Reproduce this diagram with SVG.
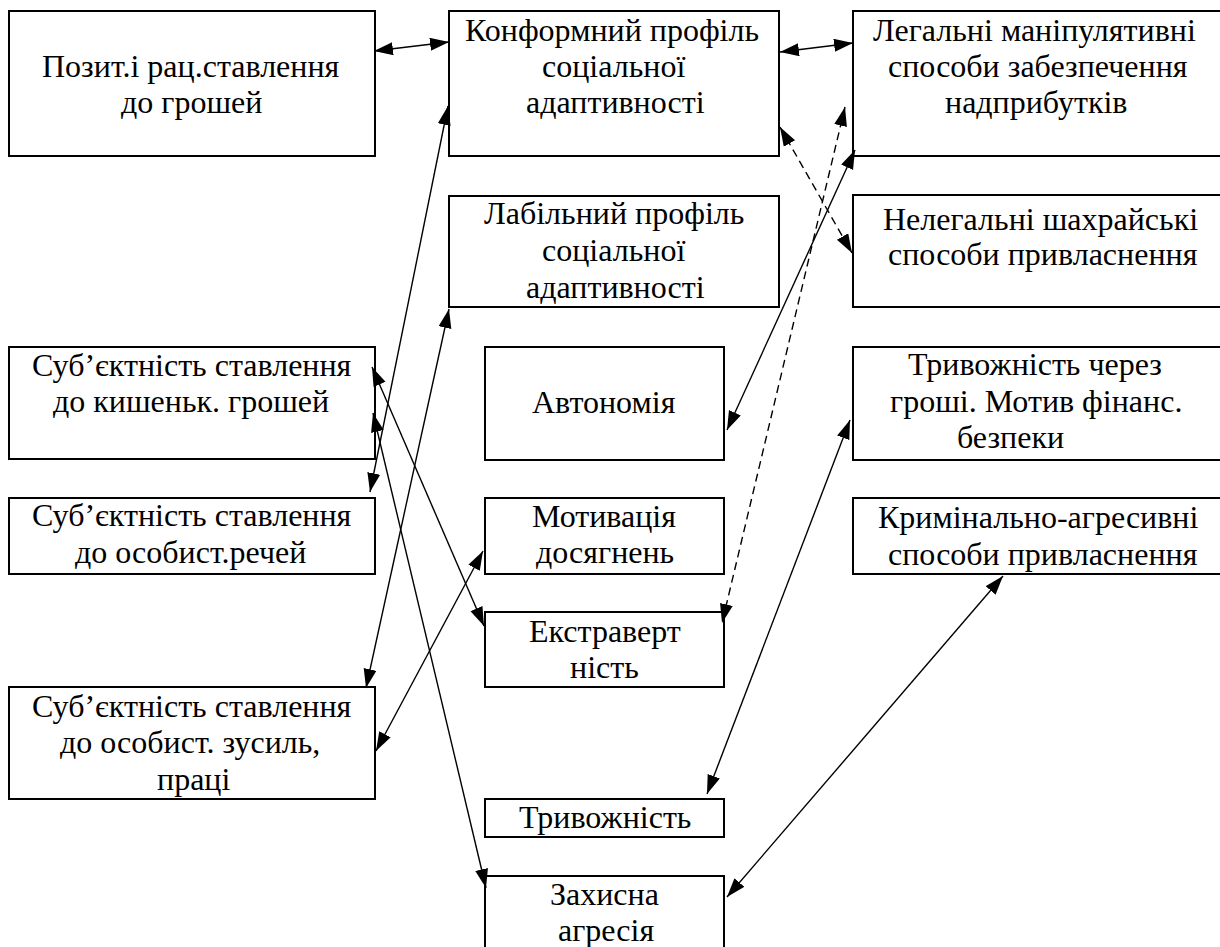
<svg xmlns="http://www.w3.org/2000/svg" width="1220" height="947" viewBox="0 0 1220 947">
<style>
.box{fill:#fff;stroke:#000;stroke-width:2}
.t{font-family:'Liberation Serif','Times New Roman',serif;font-size:32px;fill:#000}
.c{fill:none;stroke:#000;stroke-width:1.4}
.d{stroke-dasharray:8,5}
</style>
<defs>
<marker id="ah" markerUnits="userSpaceOnUse" markerWidth="20" markerHeight="14" refX="19" refY="6.5" orient="auto-start-reverse" viewBox="0 0 20 14">
<path d="M0,0 L19,6.5 L0,13 z" fill="#000"/>
</marker>
</defs>
<g id="n-pozyt"><rect class="box" x="9" y="11" width="366" height="145"/><text class="t" x="42" y="77">Позит.і рац.ставлення</text><text class="t" x="121" y="113">до грошей</text></g>
<g id="n-konform"><rect class="box" x="449" y="11" width="330" height="145"/><text class="t" x="465" y="41">Конформний профіль</text><text class="t" x="542" y="77">соціальної</text><text class="t" x="526" y="113">адаптивності</text></g>
<g id="n-legal"><rect class="box" x="853" y="11" width="372" height="145"/><text class="t" x="873" y="41">Легальні маніпулятивні</text><text class="t" x="888" y="77">способи забезпечення</text><text class="t" x="945" y="113">надприбутків</text></g>
<g id="n-labil"><rect class="box" x="449" y="196" width="330" height="111"/><text class="t" x="484" y="224">Лабільний профіль</text><text class="t" x="542" y="261">соціальної</text><text class="t" x="526" y="298">адаптивності</text></g>
<g id="n-nelegal"><rect class="box" x="853" y="195" width="372" height="112"/><text class="t" x="883" y="230">Нелегальні шахрайські</text><text class="t" x="888" y="265">способи привласнення</text></g>
<g id="n-sub1"><rect class="box" x="9" y="347" width="366" height="112"/><text class="t" x="32" y="376">Суб’єктність ставлення</text><text class="t" x="53" y="412">до кишеньк. грошей</text></g>
<g id="n-avtonom"><rect class="box" x="485" y="347" width="239" height="113"/><text class="t" x="532" y="413">Автономія</text></g>
<g id="n-tryv-groshi"><rect class="box" x="853" y="347" width="372" height="113"/><text class="t" x="908" y="375">Тривожність через</text><text class="t" x="890" y="412">гроші. Мотив фінанс.</text><text class="t" x="957" y="448">безпеки</text></g>
<g id="n-sub2"><rect class="box" x="9" y="498" width="366" height="76"/><text class="t" x="32" y="526">Суб’єктність ставлення</text><text class="t" x="75" y="563">до особист.речей</text></g>
<g id="n-motyv"><rect class="box" x="485" y="498" width="239" height="76"/><text class="t" x="532" y="527">Мотивація</text><text class="t" x="536" y="563">досягнень</text></g>
<g id="n-krymin"><rect class="box" x="853" y="498" width="372" height="76"/><text class="t" x="878" y="528">Кримінально-агресивні</text><text class="t" x="888" y="565">способи привласнення</text></g>
<g id="n-ekstra"><rect class="box" x="485" y="612" width="239" height="75"/><text class="t" x="529" y="642">Екстраверт</text><text class="t" x="570" y="678">ність</text></g>
<g id="n-sub3"><rect class="box" x="9" y="687" width="366" height="112"/><text class="t" x="32" y="717">Суб’єктність ставлення</text><text class="t" x="60" y="753">до особист. зусиль,</text><text class="t" x="157" y="790">праці</text></g>
<g id="n-tryv"><rect class="box" x="485" y="799" width="239" height="38"/><text class="t" x="519" y="828">Тривожність</text></g>
<g id="n-zakhyst"><rect class="box" x="485" y="876" width="239" height="80"/><text class="t" x="550" y="905">Захисна</text><text class="t" x="558" y="941">агресія</text></g>
<g id="connectors">
<line class="c" x1="374" y1="51" x2="449" y2="42" marker-start="url(#ah)" marker-end="url(#ah)"/>
<line class="c" x1="780" y1="52" x2="853" y2="43" marker-start="url(#ah)" marker-end="url(#ah)"/>
<line class="c" x1="448" y1="106" x2="370" y2="492" marker-start="url(#ah)" marker-end="url(#ah)"/>
<line class="c" x1="449" y1="309" x2="366" y2="688" marker-start="url(#ah)" marker-end="url(#ah)"/>
<line class="c" x1="372" y1="367" x2="484" y2="626" marker-start="url(#ah)" marker-end="url(#ah)"/>
<line class="c" x1="373" y1="413" x2="486" y2="888" marker-start="url(#ah)" marker-end="url(#ah)"/>
<line class="c" x1="376" y1="751" x2="483" y2="551" marker-start="url(#ah)" marker-end="url(#ah)"/>
<line class="c" x1="855" y1="150" x2="727" y2="430" marker-start="url(#ah)" marker-end="url(#ah)"/>
<line class="c d" x1="780" y1="127" x2="852" y2="253" marker-start="url(#ah)" marker-end="url(#ah)"/>
<line class="c d" x1="845" y1="107" x2="722" y2="623" marker-start="url(#ah)" marker-end="url(#ah)"/>
<line class="c" x1="850" y1="420" x2="707" y2="794" marker-start="url(#ah)" marker-end="url(#ah)"/>
<line class="c" x1="1003" y1="576" x2="727" y2="897" marker-start="url(#ah)" marker-end="url(#ah)"/>
</g>
</svg>
